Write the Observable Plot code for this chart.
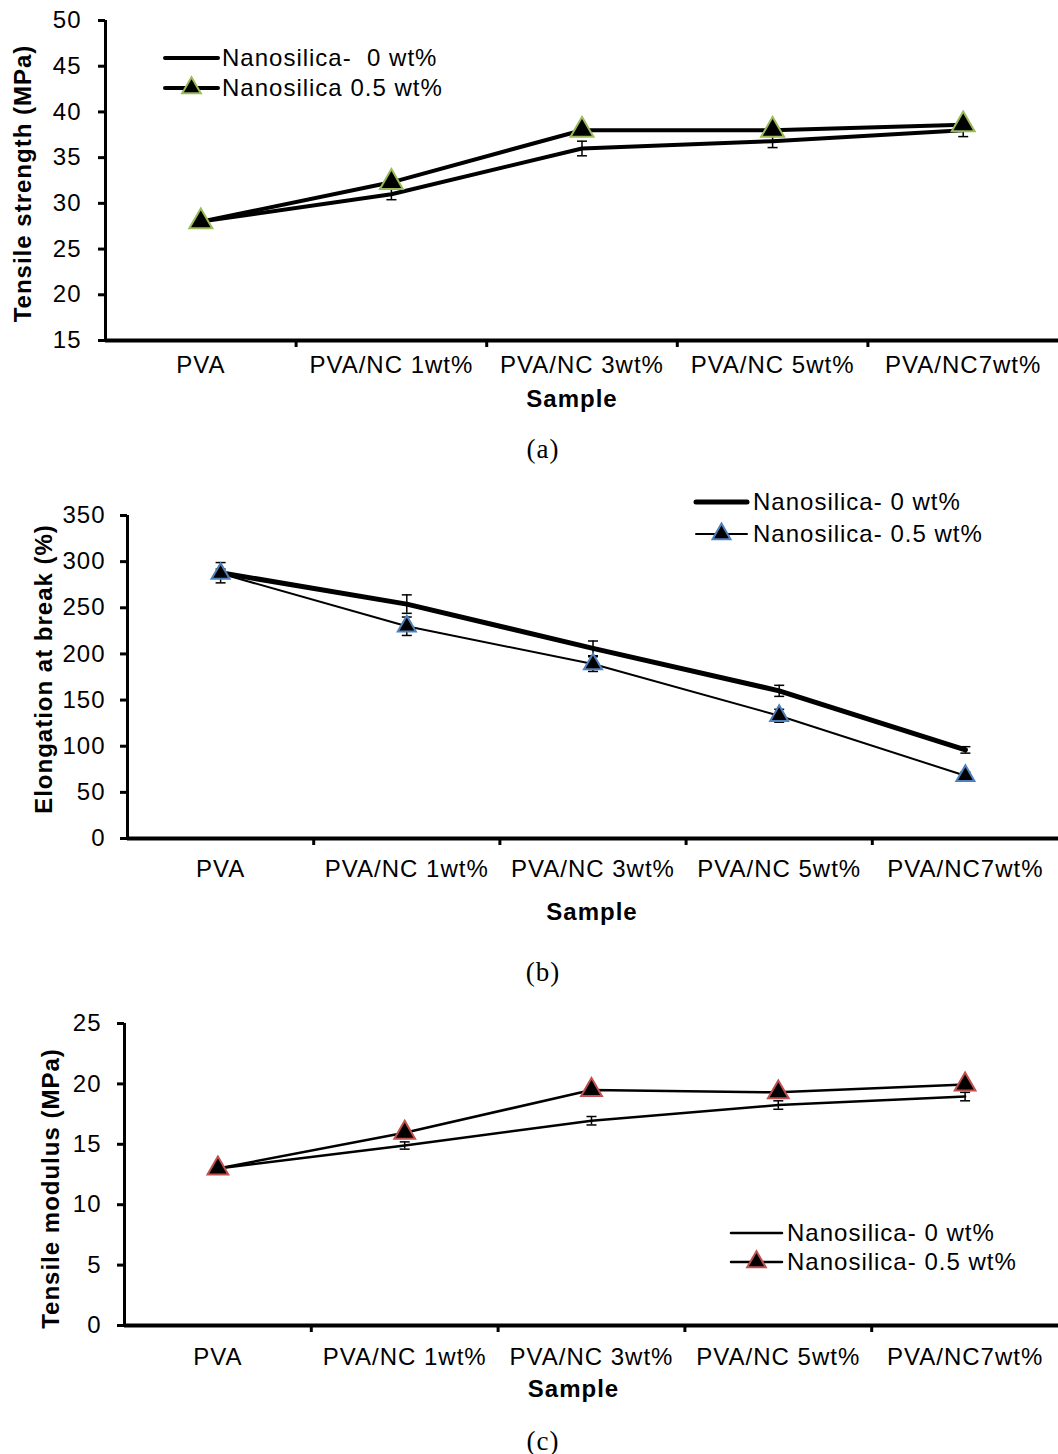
<!DOCTYPE html>
<html>
<head>
<meta charset="utf-8">
<script src="https://cdn.jsdelivr.net/npm/d3@7"></script>
<script src="https://cdn.jsdelivr.net/npm/@observablehq/plot@0.6"></script>
<style>
  html, body { margin: 0; padding: 0; background: white; }
  #root { position: relative; width: 1058px; height: 1454px; overflow: hidden; background: white;
          font-family: 'Liberation Sans', Arial, sans-serif; color: black; }
  .panel { position: absolute; left: 0; }
  .legtext { position: absolute; height: 28px; line-height: 28px; font-size: 24px; letter-spacing: 1px; white-space: pre; }
  .caption { position: absolute; font-family: 'Liberation Serif', 'Times New Roman', serif; font-size: 27px; letter-spacing: 1px; transform: translate(-50%, -50%); white-space: pre; }
</style>
</head>
<body>
<div id="root"></div>
<script>
// ---------- data ----------
const categories = ["PVA", "PVA/NC 1wt%", "PVA/NC 3wt%", "PVA/NC 5wt%", "PVA/NC7wt%"];

const strength0    = [28.0, 31.0, 36.0, 36.8, 38.0];
const strength0Err = [0.3, 0.6, 0.8, 0.7, 0.7];
const strength05    = [28.0, 32.3, 38.0, 38.0, 38.6];
const strength05Err = [0.3, 0.4, 0.5, 0.5, 0.4];
const strengthTicks = [15, 20, 25, 30, 35, 40, 45, 50];

const elong0    = [288, 254, 206, 160, 96];
const elong0Err = [11, 10, 8, 6, 3.5];
const elong05    = [287, 230, 189, 133, 68];
const elong05Err = [5, 10, 8, 7, 4];
const elongTicks = [0, 50, 100, 150, 200, 250, 300, 350];

const modulus0    = [13.0, 14.9, 16.95, 18.25, 18.95];
const modulus0Err = [0.2, 0.3, 0.35, 0.35, 0.35];
const modulus05    = [13.0, 15.95, 19.5, 19.3, 19.95];
const modulus05Err = [0.2, 0.3, 0.3, 0.3, 0.3];
const modulusTicks = [0, 5, 10, 15, 20, 25];

const seriesNames = ["Nanosilica- 0 wt%", "Nanosilica- 0.5 wt%"];

// ---------- helpers ----------
const rowsOf = (vals, errs) => categories.map((c, i) => ({cat: c, pos: i + 0.5, v: vals[i], e: errs[i]}));
const capSymbol = {
  draw(ctx, size) { const w = Math.sqrt(size / Math.PI); ctx.moveTo(-w, 0); ctx.lineTo(w, 0); }
};

function errorMarks(rows) {
  return [
    Plot.ruleX(rows, {x: "pos", y1: d => d.v - d.e, y2: d => d.v + d.e, stroke: "black", strokeWidth: 1.5}),
    Plot.dot(rows, {x: "pos", y: d => d.v + d.e, symbol: capSymbol, r: 5, fill: "none", stroke: "black", strokeWidth: 1.5}),
    Plot.dot(rows, {x: "pos", y: d => d.v - d.e, symbol: capSymbol, r: 5, fill: "none", stroke: "black", strokeWidth: 1.5})
  ];
}

function panel(cfg) {
  const r0 = rowsOf(cfg.s0, cfg.e0);
  const r5 = rowsOf(cfg.s5, cfg.e5);
  return Plot.plot({
    width: 1058,
    height: cfg.height,
    marginTop: cfg.marginTop,
    marginBottom: cfg.marginBottom,
    marginLeft: cfg.marginLeft,
    marginRight: 0,
    style: {fontFamily: "'Liberation Sans', Arial, sans-serif", fontSize: "24px", letterSpacing: "1px", color: "black", background: "white", overflow: "visible"},
    x: {domain: [0, categories.length], axis: null},
    y: {domain: [cfg.ticks[0], cfg.ticks[cfg.ticks.length - 1]], axis: null},
    marks: [
      Plot.axisY({ticks: cfg.ticks, tickSize: 7, tickPadding: cfg.yPad, strokeWidth: 3, fontSize: 24, label: null, tickFormat: d => String(d)}),
      Plot.axisX({ticks: d3.range(1, categories.length), tickSize: 7, strokeWidth: 3, tickFormat: () => "", label: null}),
      Plot.axisX({ticks: categories.map((c, i) => i + 0.5), tickSize: 0, tickPadding: cfg.catPad, fontSize: 24, label: null,
                  tickFormat: d => categories[Math.floor(d)]}),
      Plot.ruleX([0], {strokeWidth: 3, stroke: "black"}),
      Plot.ruleY([cfg.ticks[0]], {strokeWidth: 4, stroke: "black"}),
      Plot.line(r0, {x: "pos", y: "v", stroke: "black", strokeWidth: cfg.w0}),
      ...errorMarks(r0),
      Plot.line(r5, {x: "pos", y: "v", stroke: "black", strokeWidth: cfg.w5}),
      ...errorMarks(r5),
      Plot.dot(r5, {x: "pos", y: "v", symbol: "triangle", r: cfg.markerR, fill: "black", stroke: cfg.markerStroke, strokeWidth: 2}),
      Plot.text([cfg.yTitle], {frameAnchor: "left", textAnchor: "middle", lineAnchor: "middle", dx: cfg.yTitleDx, dy: cfg.yTitleDy, rotate: -90, fontSize: 24, fontWeight: "bold", fill: "black"}),
      Plot.text(["Sample"], {frameAnchor: "bottom", textAnchor: "middle", lineAnchor: "middle", dx: cfg.xTitleDx, dy: cfg.xTitleDy, fontSize: 24, fontWeight: "bold", fill: "black"})
    ]
  });
}

const root = document.getElementById("root");

function addPanel(top, cfg) {
  const wrap = document.createElement("div");
  wrap.className = "panel";
  wrap.style.top = top + "px";
  wrap.appendChild(panel(cfg));
  root.appendChild(wrap);
}

function legendRow(opt) {
  const pad = 12;
  const w = opt.x2 - opt.x1 + 2 * pad, h = 30;
  const svg = d3.create("svg").attr("width", w).attr("height", h)
    .style("position", "absolute").style("left", (opt.x1 - pad) + "px").style("top", (opt.y - h / 2) + "px");
  svg.append("line").attr("x1", pad).attr("x2", w - pad).attr("y1", h / 2).attr("y2", h / 2)
    .attr("stroke", "black").attr("stroke-width", opt.lw).attr("stroke-linecap", "round");
  if (opt.marker) {
    const sym = d3.symbol(d3.symbolTriangle, opt.markerSize)();
    svg.append("path").attr("d", sym).attr("transform", `translate(${w / 2},${h / 2})`)
      .attr("fill", "black").attr("stroke", opt.marker).attr("stroke-width", 2);
  }
  root.appendChild(svg.node());
  const t = document.createElement("div");
  t.className = "legtext";
  t.style.left = opt.tx + "px";
  t.style.top = (opt.y - 14) + "px";
  t.textContent = opt.text;
  root.appendChild(t);
}

function caption(text, x, y) {
  const c = document.createElement("div");
  c.className = "caption";
  c.style.left = x + "px";
  c.style.top = y + "px";
  c.textContent = text;
  root.appendChild(c);
}

// ---------- panel (a) ----------
addPanel(0, {
  height: 420, marginTop: 20, marginBottom: 80, marginLeft: 105, yPad: 17, catPad: 15,
  ticks: strengthTicks, s0: strength0, e0: strength0Err, s5: strength05, e5: strength05Err,
  w0: 4, w5: 4, markerR: 8.5, markerStroke: "#9BBB59",
  yTitle: "Tensile strength (MPa)", yTitleDx: -82, yTitleDy: 3, xTitleDx: -10, xTitleDy: 59
});
legendRow({x1: 165, x2: 218, y: 58, lw: 4, tx: 222, text: "Nanosilica-  0 wt%"});
legendRow({x1: 165, x2: 218, y: 88, lw: 4, marker: "#9BBB59", markerSize: 150, tx: 222, text: "Nanosilica 0.5 wt%"});
caption("(a)", 543, 449);

// ---------- panel (b) ----------
addPanel(480, {
  height: 440, marginTop: 35, marginBottom: 82, marginLeft: 127, yPad: 15, catPad: 21,
  ticks: elongTicks, s0: elong0, e0: elong0Err, s5: elong05, e5: elong05Err,
  w0: 5, w5: 2, markerR: 6.7, markerStroke: "#4F81BD",
  yTitle: "Elongation at break (%)", yTitleDx: -83, yTitleDy: -8, xTitleDx: -1, xTitleDy: 74
});
legendRow({x1: 696, x2: 747, y: 502, lw: 5, tx: 753, text: seriesNames[0]});
legendRow({x1: 696, x2: 747, y: 534, lw: 2, marker: "#4F81BD", markerSize: 140, tx: 753, text: seriesNames[1]});
caption("(b)", 543, 972);

// ---------- panel (c) ----------
addPanel(990, {
  height: 420, marginTop: 33, marginBottom: 85, marginLeft: 124, yPad: 16, catPad: 22,
  ticks: modulusTicks, s0: modulus0, e0: modulus0Err, s5: modulus05, e5: modulus05Err,
  w0: 2.5, w5: 2.5, markerR: 7.7, markerStroke: "#C0504D",
  yTitle: "Tensile modulus (MPa)", yTitleDx: -73, yTitleDy: 14, xTitleDx: -18, xTitleDy: 64
});
legendRow({x1: 731, x2: 782, y: 1233, lw: 2.5, tx: 787, text: seriesNames[0]});
legendRow({x1: 731, x2: 782, y: 1262, lw: 2.5, marker: "#C0504D", markerSize: 150, tx: 787, text: seriesNames[1]});
caption("(c)", 543, 1441);
</script>
</body>
</html>
